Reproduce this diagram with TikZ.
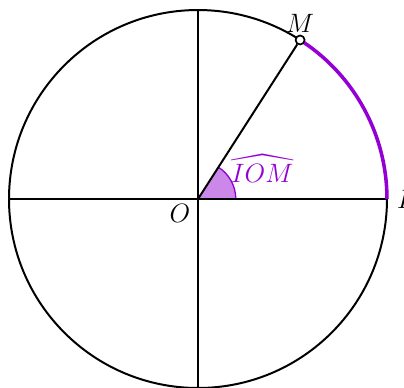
\documentclass[tikz,border=0pt]{standalone}
\usepackage{amsmath,amssymb}
\usepackage{xcolor}
\usepackage{tikz}
\usetikzlibrary{positioning,calc}

\definecolor{arcviolet}{RGB}{148,0,211}
\definecolor{anglefill}{RGB}{204,136,232}

\begin{document}
\begin{tikzpicture}[
  axis/.style={line width=0.9pt},
  pt/.style={circle, draw, fill=white, inner sep=0pt, minimum size=4pt, line width=0.7pt},
  arcline/.style={arcviolet, line width=1.6pt}
]
\useasboundingbox (-3.143,-3.0) rectangle (3.27,3.159);
% Radius and angle
\def\r{3} \def\ang{57.3}

% Points
\coordinate (O) at (0,0);
\coordinate (I) at (\r,0);
\coordinate (W) at (-\r,0);
\coordinate (N) at (0,\r);
\coordinate (S) at (0,-\r);
\node[pt] (M) at (\ang:\r) {};

% Angle sector
\fill[anglefill] (O) -- (0.6,0) arc (0:\ang:0.6) -- cycle;
\draw[arcviolet, line width=0.6pt] (0.6,0) arc (0:\ang:0.6);

% Circle and diameters
\draw[axis] (O) circle (\r);
\draw[axis] (W) -- (I);
\draw[axis] (N) -- (S);
\draw[axis] (O) -- (M);

% Arc from I to M
\draw[arcline] (I) arc (0:\ang-1.1:\r);
\node[pt] at (M) {};

% Labels
\node[below left=-1pt and 0pt of O, font=\large] (lO) {$O$};
\node[above=0pt of M, font=\large, inner sep=1pt] (lM) {$M$};
\node[right=1pt of I, font=\large] (lI) {$I$};
\node[arcviolet, font=\large] (lang) at (1.02,0.49) {$\widehat{IOM}$};
\end{tikzpicture}
\end{document}
